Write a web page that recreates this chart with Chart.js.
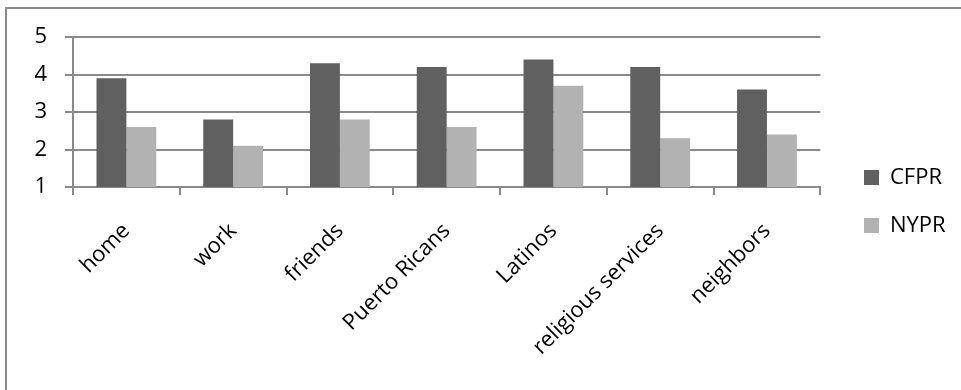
<!DOCTYPE html>
<html>
<head>
<meta charset="utf-8">
<script src="https://cdn.jsdelivr.net/npm/chart.js@4"></script>
<style>
  html, body { margin: 0; padding: 0; background: #fff; }
  #wrap { position: relative; width: 961px; height: 390px; overflow: hidden; }
  #frame { position: absolute; left: 5px; top: 7px; width: 1000px; height: 400px;
           border-top: 2px solid #8a8a8a; border-left: 2px solid #8a8a8a; }
  canvas { position: absolute; left: 0; top: 0; }
</style>
</head>
<body>
<div id="wrap">
  <div id="frame"></div>
  <canvas id="chart" width="961" height="390"></canvas>
</div>
<script>
const categories = ["home", "work", "friends", "Puerto Ricans", "Latinos", "religious services", "neighbors"];
const cfpr = [3.9, 2.8, 4.3, 4.2, 4.4, 4.2, 3.6];
const nypr = [2.6, 2.1, 2.8, 2.6, 3.7, 2.3, 2.4];
const yTicks = [1, 2, 3, 4, 5];

const FONT = "'Open Sans', 'Noto Sans', sans-serif";
const AXIS_GRAY = "#8a8a8a";

// move the legend into place after layout (chart area keeps its own width)
const legendShift = {
  id: "legendShift",
  afterLayout(chart) {
    const l = chart.legend;
    const pad = l.options.labels.padding;
    const dx = 864 - pad - l.left;
    l.left += dx;
    l.right += dx;
  }
};

const ctx = document.getElementById("chart");

new Chart(ctx, {
  type: "bar",
  data: {
    labels: categories,
    datasets: [
      {
        label: "CFPR",
        data: cfpr,
        backgroundColor: "#606060",
        borderWidth: 0
      },
      {
        label: "NYPR",
        data: nypr,
        backgroundColor: "#b2b2b2",
        borderWidth: 0
      }
    ]
  },
  options: {
    responsive: false,
    animation: false,
    devicePixelRatio: 1,
    layout: { padding: { left: 0, top: 37, right: 23, bottom: 24 } },
    datasets: {
      bar: { categoryPercentage: 0.56, barPercentage: 1.0 }
    },
    scales: {
      x: {
        afterFit: s => { s.height = 179; },
        grid: {
          display: true,
          drawOnChartArea: false,
          drawTicks: true,
          tickLength: 8,
          color: AXIS_GRAY,
          lineWidth: 2
        },
        border: { display: true, color: AXIS_GRAY, width: 2 },
        ticks: {
          color: "#000",
          font: { family: FONT, size: 22 },
          minRotation: 45,
          maxRotation: 45,
          padding: 23,
          autoSkip: false
        }
      },
      y: {
        min: 1,
        max: 5,
        afterFit: s => { s.width = 73; },
        afterBuildTicks: s => { s.ticks = yTicks.map(v => ({ value: v })); },
        grid: {
          color: AXIS_GRAY,
          lineWidth: 2,
          drawTicks: true,
          tickLength: 8
        },
        border: { display: true, color: AXIS_GRAY, width: 2 },
        ticks: {
          color: "#000",
          font: { family: FONT, size: 22 },
          padding: 18
        }
      }
    },
    plugins: {
      legend: {
        display: true,
        position: "right",
        labels: {
          color: "#000",
          boxWidth: 15,
          boxHeight: 15,
          padding: 26,
          font: { family: FONT, size: 22 }
        }
      },
      tooltip: { enabled: false },
      title: { display: false }
    }
  },
  plugins: [legendShift]
});
</script>
</body>
</html>
